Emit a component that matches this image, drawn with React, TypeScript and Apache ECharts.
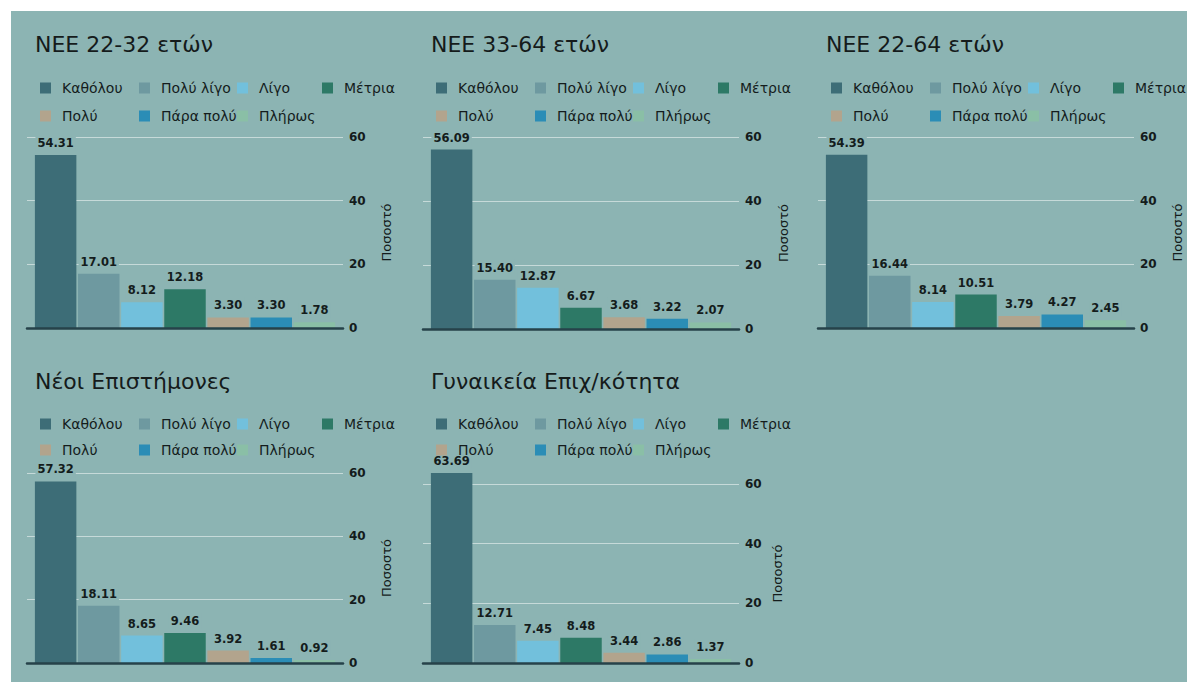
import React, { useEffect, useRef } from "react";
import * as echarts from "echarts";

const categories = ["Καθόλου", "Πολύ λίγο", "Λίγο", "Μέτρια", "Πολύ", "Πάρα πολύ", "Πλήρως"];
const panelTitles = ["NEE 22-32 ετών", "NEE 33-64 ετών", "NEE 22-64 ετών", "Νέοι Επιστήμονες", "Γυναικεία Επιχ/κότητα"];
const nee2232 = [54.31, 17.01, 8.12, 12.18, 3.3, 3.3, 1.78];
const nee3364 = [56.09, 15.4, 12.87, 6.67, 3.68, 3.22, 2.07];
const nee2264 = [54.39, 16.44, 8.14, 10.51, 3.79, 4.27, 2.45];
const neoiEpistimones = [57.32, 18.11, 8.65, 9.46, 3.92, 1.61, 0.92];
const gynaikeiaEpix = [63.69, 12.71, 7.45, 8.48, 3.44, 2.86, 1.37];
const panelValues = [nee2232, nee3364, nee2264, neoiEpistimones, gynaikeiaEpix];
const yTickMin = 0;
const yTickMax = 60;
const yTickStep = 20;
const axisName = "Ποσοστό";

const colors = ["#3d6d77", "#6e99a0", "#72c0dc", "#2d7966", "#b2a48d", "#2b8db6", "#8abfa6"];
const BG = "#8cb4b3";
const TXT = "#141c1c";
const FONT = "DejaVu Sans, Verdana, sans-serif";

const layout = [
  { ox: 27, y60: 137, y0: 328, ty: 33, ly1: 81, ly2: 109, ng: 37 },
  { ox: 423, y60: 137, y0: 329, ty: 33, ly1: 81, ly2: 109, ng: 38 },
  { ox: 818, y60: 137, y0: 328, ty: 33, ly1: 81, ly2: 109, ng: 37 },
  { ox: 27, y60: 473, y0: 663, ty: 370, ly1: 417, ly2: 443, ng: 37 },
  { ox: 423, y60: 484, y0: 663, ty: 370, ly1: 417, ly2: 443, ng: 32 },
];
// legend column offsets (from panel left), row index per item
const legendCol = [13, 112, 210, 295, 13, 112, 210];
const legendRow = [0, 0, 0, 0, 1, 1, 1];

export default function App() {
  const ref = useRef<HTMLDivElement>(null);
  useEffect(() => {
    if (!ref.current) return;
    const chart = echarts.init(ref.current, undefined, { renderer: "svg" });
    const titles: any[] = [];
    const legends: any[] = [];
    const grids: any[] = [];
    const xAxes: any[] = [];
    const yAxes: any[] = [];
    const series: any[] = [];
    layout.forEach((L, p) => {
      titles.push({
        text: panelTitles[p],
        left: L.ox + 8,
        top: L.ty,
        padding: 0,
        textStyle: { fontSize: 22, fontWeight: "normal", color: "#151b1b", fontFamily: FONT },
      });
      categories.forEach((c, i) => {
        legends.push({
          left: L.ox + legendCol[i],
          top: legendRow[i] === 0 ? L.ly1 : L.ly2,
          orient: "horizontal",
          padding: 0,
          itemGap: 0,
          itemWidth: 11,
          itemHeight: 11,
          icon: "rect",
          selectedMode: false,
          textStyle: { fontSize: 14, color: TXT, fontFamily: FONT, padding: [0, 0, 0, 6] },
          data: [c],
        });
      });
      grids.push({ left: L.ox, top: L.y60, width: 316, height: L.y0 - L.y60 });
      xAxes.push({
        type: "category",
        gridIndex: p,
        data: [""],
        axisLine: { show: true, lineStyle: { color: "#26424a", width: 2.5 } },
        axisTick: { show: false },
        axisLabel: { show: false },
        z: 5,
      });
      yAxes.push({
        type: "value",
        gridIndex: p,
        position: "right",
        min: yTickMin,
        max: yTickMax,
        interval: yTickStep,
        axisLine: { show: false },
        axisTick: { show: false },
        axisLabel: { color: TXT, fontSize: 12, margin: 6, fontFamily: FONT, fontWeight: "bold" },
        splitLine: { show: true, lineStyle: { color: "#c6dad9", width: 1 } },
        name: axisName,
        nameLocation: "middle",
        nameRotate: 90,
        nameGap: L.ng,
        nameTextStyle: { color: TXT, fontSize: 13, fontFamily: FONT },
      });
      categories.forEach((c, i) => {
        series.push({
          type: "bar",
          name: c,
          xAxisIndex: p,
          yAxisIndex: p,
          data: [panelValues[p][i]],
          barGap: "4%",
          barCategoryGap: "5%",
          clip: false,
          itemStyle: { color: colors[i] },
          label: {
            show: true,
            position: "top",
            distance: 4,
            formatter: (d: any) => Number(d.value).toFixed(2),
            color: TXT,
            fontSize: 11.5,
            fontWeight: "bold",
            fontFamily: FONT,
            backgroundColor: BG,
            padding: [2, 2],
          },
        });
      });
    });
    chart.setOption({
      animation: false,
      backgroundColor: "#ffffff",
      color: colors,
      graphic: [
        { type: "rect", left: 11, top: 11, z: -10, shape: { width: 1176, height: 671 }, style: { fill: BG } },
      ],
      title: titles,
      legend: legends,
      grid: grids,
      xAxis: xAxes,
      yAxis: yAxes,
      series,
    });
    return () => chart.dispose();
  }, []);
  return <div ref={ref} style={{ position: "fixed", left: 0, top: 0, width: 1187, height: 682 }} />;
}
